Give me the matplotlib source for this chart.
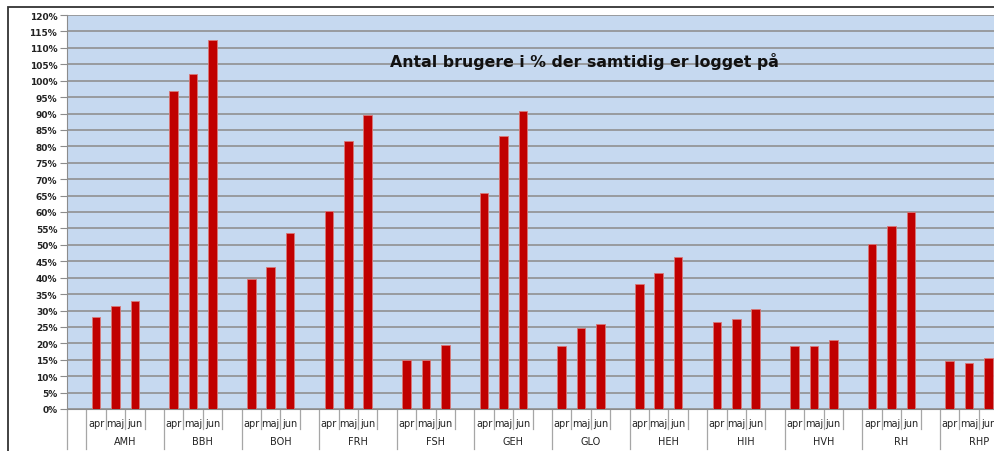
import numpy as np
import matplotlib.pyplot as plt
from matplotlib.patches import Rectangle
import matplotlib.transforms as mtransforms

# Hospitaler og maaneder
hospitals = ['AMH', 'BBH', 'BOH', 'FRH', 'FSH', 'GEH', 'GLO', 'HEH', 'HIH', 'HVH', 'RH', 'RHP']
months = ['apr', 'maj', 'jun']

# Andel samtidige brugere (%)
apr = [28.0, 96.9, 39.5, 60.2, 15.0, 65.7, 19.2, 38.1, 26.6, 19.2, 50.4, 14.6]
maj = [31.3, 102.0, 43.4, 81.5, 15.0, 83.2, 24.8, 41.3, 27.3, 19.2, 55.7, 14.0]
jun = [32.8, 112.3, 53.5, 89.6, 19.6, 90.7, 26.0, 46.2, 30.4, 21.0, 60.0, 15.6]

yticks = np.arange(0, 121, 5)

fig = plt.figure(figsize=(9.94, 4.52), dpi=100)
# plot area runs past the right edge of the figure
ax = fig.add_axes([67/994, 42/452, 950.6/994, 394/452])
ax.set_facecolor('#c6d9f0')

vals = [apr, maj, jun]
bar_w = 0.45
for m in range(3):
    x = [1 + 4*g + m for g in range(len(hospitals))]
    ax.bar(x, vals[m], width=bar_w, color='#c00000', edgecolor='#d87878',
           linewidth=0.6, zorder=3)

ax.set_xlim(-0.5, 48.5)
ax.set_ylim(0, 120)
ax.set_yticks(yticks)
ax.set_yticklabels([f'{v}%' for v in yticks], fontsize=6.5, fontweight='bold',
                   color='#222222')
ax.yaxis.grid(True, color='#909090', linewidth=1.2, zorder=0)
ax.set_axisbelow(True)
ax.tick_params(axis='y', length=5, width=0.8, color='#8c8c8c', pad=2)
ax.tick_params(axis='x', length=0, labelbottom=False)

for s in ['top', 'right']:
    ax.spines[s].set_visible(False)
ax.spines['left'].set_color('#8c8c8c')
ax.spines['bottom'].set_color('#8c8c8c')

# category axis: month row and hospital row
trans = mtransforms.blended_transform_factory(ax.transData, ax.transAxes)
for i in range(49):
    b = i - 0.5
    long_line = (b == -0.5) or ((b - 0.5) % 4 == 0)
    y1 = -0.1015 if long_line else -0.05
    ax.plot([b, b], [0, y1], transform=trans, color='#a6a6a6', linewidth=0.9,
            clip_on=False)

for g, h in enumerate(hospitals):
    for m, mn in enumerate(months):
        ax.text(1 + 4*g + m, -0.035, mn, transform=trans, ha='center',
                va='center', fontsize=7, color='#222222')
    ax.text(2.5 + 4*g, -0.081, h, transform=trans, ha='center', va='center',
            fontsize=7, color='#222222')

ax.text(390/994, 1 - 61/452, 'Antal brugere i % der samtidig er logget på',
        transform=fig.transFigure, ha='left', va='center', fontsize=11.3,
        fontweight='bold', color='#111111')

# chart frame
fig.add_artist(Rectangle((8/994, -0.1), 1.2, 1.1 - 8/452, transform=fig.transFigure,
                         fill=False, edgecolor='#333333', linewidth=1.3))

fig.savefig('out.png', dpi=100)
